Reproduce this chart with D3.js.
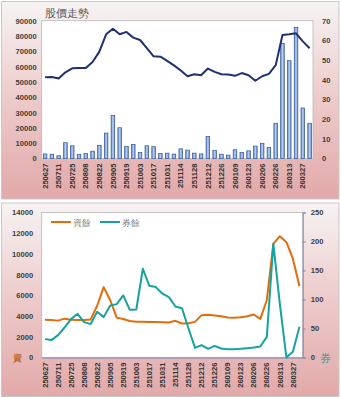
<!DOCTYPE html>
<html><head><meta charset="utf-8">
<script src="https://cdn.jsdelivr.net/npm/d3@7"></script>
<style>
html,body{margin:0;padding:0;background:#fff;}
svg{display:block;}
text{font-family:"Liberation Sans",Arial,sans-serif;}
</style></head>
<body>
<script>
// ---- data ----
const dates = ["250627","250704","250711","250718","250725","250801","250808","250815","250822","250829",
"250905","250912","250919","250926","251003","251009","251017","251024","251031","251107",
"251114","251121","251128","251205","251212","251219","251226","260102","260109","260116",
"260123","260130","260206","260211","260226","260306","260313","260320","260327","260402"];
// volume (bars, left axis)
const volume = [3000,2800,1800,10300,8300,2600,3300,4800,8500,16600,
28000,20100,7900,9200,3900,8300,7700,3200,3500,2900,
6300,5500,3500,3000,14400,5200,2800,2200,5700,3900,
5000,8100,9800,7200,23000,75200,63900,85700,33000,23000];
// price (line, right axis)
const price = [41.3,41.4,40.6,43.8,45.8,46.0,46.0,49.0,54.3,63.1,
65.9,63.1,64.3,61.4,60.2,56.1,51.9,51.7,49.6,47.3,
44.7,41.8,42.8,42.3,45.7,44.0,42.8,42.7,42.0,43.4,
42.3,39.5,41.8,43.0,47.4,62.7,63.1,63.6,59.5,56.0];
// 資餘 (left axis)
const margin = [3650,3620,3560,3750,3650,3620,3620,3680,5000,6800,
5530,3850,3720,3530,3460,3460,3430,3430,3410,3380,
3540,3280,3310,3440,4090,4120,4050,3990,3860,3830,
3890,3990,4150,3730,5530,10980,11710,11130,9540,6880];
// 券餘 (right axis)
const shortBal = [31.7,30,38.6,51.7,66.2,75.3,61,57.6,78.8,69.6,
89.7,92,107,82.2,82.8,153,123.6,121.4,110,104,
88,85,50,16.6,21.3,15,20,15.5,14.4,14.4,
14.9,16,17.3,19,35.6,196,92,0,10,53];
const volTicks = [0,10000,20000,30000,40000,50000,60000,70000,80000,90000];
const priceTicks = [0,10,20,30,40,50,60,70];
const marginTicks = [0,2000,4000,6000,8000,10000,12000,14000];
const shortTicks = [0,50,100,150,200,250];
const shownDates = dates.filter((d,i)=>i%2===0);
const title = "股價走勢";
const legendNames = ["資餘","券餘"];

const W=341,H=398;
const svg = d3.select("body").append("svg").attr("width",W).attr("height",H);
const defs = svg.append("defs");
const g = defs.append("linearGradient").attr("id","bg").attr("x1",0).attr("y1",0).attr("x2",0).attr("y2",1);
g.append("stop").attr("offset","0%").attr("stop-color","#f7f3f3");
g.append("stop").attr("offset","50%").attr("stop-color","#edcaca");
g.append("stop").attr("offset","100%").attr("stop-color","#e2a9a9");
const bg2 = defs.append("linearGradient").attr("id","bar").attr("x1",0).attr("y1",0).attr("x2",1).attr("y2",0);
bg2.append("stop").attr("offset","0%").attr("stop-color","#6d8fc9");
bg2.append("stop").attr("offset","50%").attr("stop-color","#b9cdee");
bg2.append("stop").attr("offset","100%").attr("stop-color","#6d8fc9");

const numFont = {size:"7.6px", weight:"bold", fill:"#404040"};
function styleText(sel, size, weight, fill){
  sel.attr("font-size",size).attr("font-weight",weight).attr("fill",fill);
}

// ================= TOP CHART =================
svg.append("rect").attr("x",1.5).attr("y",1.5).attr("width",337.5).attr("height",197.5)
  .attr("fill","url(#bg)").attr("stroke","#c9c9c9");
const P1 = {l:41.7,r:313,t:20.7,b:158.5};
svg.append("rect").attr("x",P1.l).attr("y",P1.t).attr("width",P1.r-P1.l).attr("height",P1.b-P1.t)
  .attr("fill","#fff").attr("stroke","#b8b8b8").attr("stroke-width",0.8);
const x1 = d3.scaleBand().domain(dates).range([P1.l,P1.r]);
const yV = d3.scaleLinear().domain([0,90000]).range([P1.b,P1.t]);
const yP = d3.scaleLinear().domain([0,70]).range([P1.b,P1.t]);

svg.append("text").attr("x",45).attr("y",16.5).text(title)
  .attr("font-family","'Noto Sans CJK TC','Noto Sans CJK SC',sans-serif")
  .attr("font-size","10.5px").attr("fill","#595959");

const axL1 = svg.append("g").attr("transform",`translate(${P1.l},0)`)
  .call(d3.axisLeft(yV).tickValues(volTicks).tickSize(0).tickPadding(5).tickFormat(d3.format("d")));
axL1.select(".domain").remove();
axL1.selectAll("text").call(styleText,numFont.size,numFont.weight,numFont.fill);

const axR1 = svg.append("g").attr("transform",`translate(${P1.r},0)`)
  .call(d3.axisRight(yP).tickValues(priceTicks).tickSize(0).tickPadding(9));
axR1.select(".domain").remove();
axR1.selectAll("text").call(styleText,numFont.size,numFont.weight,numFont.fill);

svg.append("g").selectAll("rect").data(volume).join("rect")
  .attr("x",(d,i)=>x1(dates[i])+x1.bandwidth()/2-1.8)
  .attr("width",3.6)
  .attr("y",d=>yV(d)).attr("height",d=>yV(0)-yV(d))
  .attr("fill","url(#bar)").attr("stroke","#2f5597").attr("stroke-width",0.7);

svg.append("path").datum(price)
  .attr("d",d3.line().x((d,i)=>x1(dates[i])+x1.bandwidth()/2).y(d=>yP(d)))
  .attr("fill","none").attr("stroke","#1f3171").attr("stroke-width",2).attr("stroke-linejoin","round");

const axB1 = svg.append("g").attr("transform",`translate(0,${P1.b})`)
  .call(d3.axisBottom(x1).tickValues(shownDates).tickSize(0));
axB1.select(".domain").remove();
axB1.selectAll("text").attr("transform","rotate(-90)").attr("text-anchor","end")
  .attr("x",-5).attr("y",0).attr("dy","0.35em")
  .call(styleText,"7.6px","bold","#333");

// ================= BOTTOM CHART =================
svg.append("rect").attr("x",1.5).attr("y",203).attr("width",337.5).attr("height",193.5)
  .attr("fill","url(#bg)").attr("stroke","#c9c9c9");
const P2 = {l:41.7,r:302.7,t:212.5,b:357.5};
svg.append("rect").attr("x",P2.l).attr("y",P2.t).attr("width",P2.r-P2.l).attr("height",P2.b-P2.t)
  .attr("fill","#fff").attr("stroke","#b8b8b8").attr("stroke-width",0.8);
const x2 = d3.scaleBand().domain(dates).range([P2.l,P2.r]);
const yM = d3.scaleLinear().domain([0,14000]).range([P2.b,P2.t]);
const yS = d3.scaleLinear().domain([0,250]).range([P2.b,P2.t]);

const axL2 = svg.append("g").attr("transform",`translate(${P2.l},0)`)
  .call(d3.axisLeft(yM).tickValues(marginTicks).tickSize(0).tickPadding(8.5).tickFormat(d3.format("d")));
axL2.select(".domain").remove();
axL2.selectAll("text").call(styleText,numFont.size,numFont.weight,numFont.fill);

const axR2 = svg.append("g").attr("transform",`translate(${P2.r},0)`)
  .call(d3.axisRight(yS).tickValues(shortTicks).tickSize(3).tickPadding(5));
axR2.select(".domain").attr("stroke","#8585b5").attr("stroke-width",1);
axR2.selectAll("line").attr("stroke","#8585b5");
axR2.selectAll("text").call(styleText,numFont.size,numFont.weight,numFont.fill);

const axB2 = svg.append("g").attr("transform",`translate(0,${P2.b})`)
  .call(d3.axisBottom(x2).tickValues(shownDates).tickSize(0));
axB2.select(".domain").attr("stroke","#8585b5").attr("stroke-width",1);
axB2.selectAll("text").attr("transform","rotate(-90)").attr("text-anchor","end")
  .attr("x",-5).attr("y",0).attr("dy","0.35em")
  .call(styleText,"7.6px","bold","#333");

const ORANGE="#e46c0a", TEAL="#17a2a0";
const cx2 = (d,i)=>x2(dates[i])+x2.bandwidth()/2;
svg.append("path").datum(margin)
  .attr("d",d3.line().x(cx2).y(d=>yM(d)))
  .attr("fill","none").attr("stroke",ORANGE).attr("stroke-width",2).attr("stroke-linejoin","round");
svg.append("path").datum(shortBal)
  .attr("d",d3.line().x(cx2).y(d=>yS(d)))
  .attr("fill","none").attr("stroke",TEAL).attr("stroke-width",2).attr("stroke-linejoin","round");

// legend
const lg = svg.append("g");
[[ORANGE,51],[TEAL,100]].forEach(([c,x],k)=>{
  lg.append("line").attr("x1",x).attr("x2",x+20).attr("y1",222).attr("y2",222).attr("stroke",c).attr("stroke-width",2);
  lg.append("text").attr("x",x+22).attr("y",225.5).text(legendNames[k])
    .attr("font-family","'Noto Sans CJK TC',sans-serif").attr("font-size","9px").attr("fill","#7f7f7f");
});
svg.append("text").attr("x",13).attr("y",361).text("資")
  .attr("font-family","'Noto Sans CJK TC',sans-serif").attr("font-size","9px").attr("font-weight","bold").attr("fill","#c0652a");
svg.append("text").attr("x",320).attr("y",362).text("券")
  .attr("font-family","'Noto Sans CJK TC',sans-serif").attr("font-size","10.5px").attr("fill",TEAL);
</script>
</body></html>
